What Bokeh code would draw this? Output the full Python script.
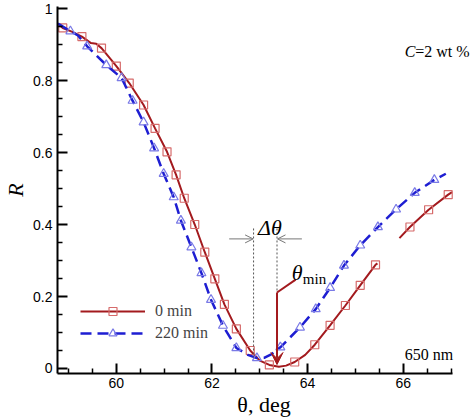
from bokeh.plotting import figure
from bokeh.models import (FixedTicker, CustomJSTickFormatter, Label, Arrow, VeeHead,
                          OpenHead, Legend, LegendItem, Range1d)
from bokeh.embed import file_html
from bokeh.resources import INLINE

NaN = float("nan")

# ---- data: 0 min (solid red) ----
r0_x = [58.78, 58.88, 59.08, 59.28, 59.47, 59.58, 59.69, 59.79, 59.92, 60.00, 60.27, 60.57,
        60.81, 61.06, 61.25, 61.42, 61.64, 61.85, 62.06, 62.26, 62.51, 62.80, 63.00, 63.20,
        63.40, 63.55, 63.73, 63.95, 64.15, 64.47, 64.79, 65.10, 65.42, 65.46,
        NaN, 65.92, 66.14, 66.53, 66.94, 67.02]
r0_y = [0.958, 0.946, 0.935, 0.922, 0.904, 0.902, 0.890, 0.874, 0.853, 0.840, 0.793, 0.732,
        0.667, 0.602, 0.538, 0.473, 0.400, 0.323, 0.249, 0.178, 0.110, 0.050, 0.022, 0.010,
        0.005, 0.008, 0.018, 0.038, 0.066, 0.120, 0.175, 0.231, 0.288, 0.292,
        NaN, 0.362, 0.393, 0.441, 0.483, 0.490]
r0_mx = [58.88, 59.28, 59.69, 60.00, 60.27, 60.57, 60.81, 61.06, 61.25, 61.42, 61.64, 61.85,
         62.06, 62.26, 62.51, 62.80, 63.20, 63.73, 64.15, 64.47, 64.79, 65.10, 65.42,
         66.14, 66.53, 66.94]
r0_my = [0.946, 0.922, 0.890, 0.840, 0.793, 0.732, 0.667, 0.602, 0.538, 0.473, 0.400, 0.323,
         0.249, 0.178, 0.110, 0.050, 0.010, 0.018, 0.066, 0.120, 0.175, 0.231, 0.288,
         0.393, 0.441, 0.483]

# ---- data: 220 min (dashed blue) ----
b220_x = [58.78, 59.04, 59.20, 59.39, 59.79, 60.11, 60.34, 60.57, 60.79, 60.99, 61.20, 61.35,
          61.57, 61.78, 61.98, 62.23, 62.51, 62.75, 62.94, 63.10, 63.25, 63.43, 63.84, 64.17,
          64.47, 64.76, 65.10, 65.47, 65.85, 66.24, 66.65, 66.89]
b220_y = [0.958, 0.937, 0.925, 0.895, 0.843, 0.807, 0.744, 0.684, 0.612, 0.541, 0.476, 0.411,
          0.337, 0.265, 0.191, 0.119, 0.057, 0.038, 0.029, 0.030, 0.040, 0.059, 0.114, 0.165,
          0.224, 0.286, 0.342, 0.393, 0.442, 0.488, 0.524, 0.541]
b220_mx = [59.04, 59.39, 59.79, 60.11, 60.34, 60.57, 60.79, 60.99, 61.20, 61.35, 61.57, 61.78,
           61.98, 62.23, 62.51, 62.94, 63.43, 63.84, 64.17, 64.47, 64.76, 65.10, 65.47, 65.85,
           66.24, 66.65]
b220_my = [0.937, 0.895, 0.843, 0.807, 0.744, 0.684, 0.612, 0.541, 0.476, 0.411, 0.337, 0.265,
           0.191, 0.119, 0.057, 0.029, 0.059, 0.114, 0.165, 0.224, 0.286, 0.342, 0.393, 0.442,
           0.488, 0.524]

x_ticks = [60, 62, 64, 66]
x_minor = [59, 59.5, 60.5, 61, 61.5, 62.5, 63, 63.5, 64.5, 65, 65.5, 66.5, 67]
y_ticks = [0, 0.2, 0.4, 0.6, 0.8, 1.0]
y_minor = [0.05, 0.1, 0.15, 0.25, 0.3, 0.35, 0.45, 0.5, 0.55, 0.65, 0.7, 0.75, 0.85, 0.9, 0.95]

RED = "#A31A1E"
RED_M = "#D66B6B"
BLUE = "#1E1ED2"
BLUE_M = "#7A7AE6"
SERIF = "Liberation Serif"
SANS = "Liberation Sans"

# frame spans to the right edge so the "C=2 wt %" note is not clipped;
# the x axis itself stops at 67.036 via axis bounds
p = figure(width=470, height=420, x_range=Range1d(58.77, 67.406), y_range=Range1d(-0.0139, 1.0056),
           output_backend="svg", toolbar_location=None,
           min_border_left=49, min_border_right=0, min_border_top=6, min_border_bottom=47)
p.xgrid.visible = False
p.ygrid.visible = False
p.outline_line_color = None

fmt = CustomJSTickFormatter(code="return (Math.round(tick*100)/100).toString();")
p.xaxis.ticker = FixedTicker(ticks=x_ticks, minor_ticks=x_minor)
p.yaxis.ticker = FixedTicker(ticks=y_ticks, minor_ticks=y_minor)
p.xaxis.bounds = (58.77, 67.036)
for ax in (p.xaxis, p.yaxis):
    ax.formatter = fmt
    ax.axis_line_width = 2
    ax.axis_line_color = "black"
    ax.major_tick_line_width = 2
    ax.minor_tick_line_width = 1.5
    ax.major_tick_in = 10
    ax.major_tick_out = 0
    ax.minor_tick_in = 5
    ax.minor_tick_out = 0
    ax.major_label_text_font = SANS
    ax.major_label_text_font_size = "14px"
    ax.major_label_text_color = "black"
    ax.major_label_standoff = 5
    ax.axis_label_text_font = SERIF
    ax.axis_label_text_font_size = "22px"
    ax.axis_label_text_color = "black"
p.xaxis.major_label_standoff = 4

p.yaxis.axis_label = "R"
p.yaxis.axis_label_text_font_style = "italic"
p.yaxis.axis_label_standoff = 2
p.xaxis.axis_label = "θ, deg"
p.xaxis.axis_label_text_font_style = "normal"
p.xaxis.axis_label_standoff = 1

r_line = p.line(r0_x, r0_y, line_color=RED, line_width=2)
r_mark = p.scatter(r0_mx, r0_my, marker="square", size=8, line_color=RED_M, fill_color=None,
                   line_width=1.2)
b_line = p.line(b220_x, b220_y, line_color=BLUE, line_width=2.5, line_dash="11 6")
b_mark = p.scatter(b220_mx, b220_my, marker="triangle", size=9, line_color=BLUE_M,
                   fill_color=None, line_width=1.2)

legend = Legend(items=[LegendItem(label="0 min", renderers=[r_line, r_mark]),
                       LegendItem(label="220 min", renderers=[b_line, b_mark])],
                location=(23, 30), glyph_width=65, glyph_height=20, label_height=20,
                spacing=2, padding=0, margin=0, label_standoff=10,
                label_text_font=SERIF, label_text_font_size="16px",
                border_line_color=None, background_fill_alpha=0)
p.add_layout(legend)

# ---- annotations ----
p.segment(x0=[62.87, 63.36], y0=[0.389, 0.389], x1=[62.87, 63.36], y1=[0.03, 0.211],
          line_color="#555555", line_width=1, line_dash="2 2")
p.add_layout(Arrow(x_start=62.36, y_start=0.36, x_end=62.86, y_end=0.36,
                   end=OpenHead(size=8, line_color="#777777", line_width=1),
                   line_color="#777777", line_width=1))
p.add_layout(Arrow(x_start=63.88, y_start=0.36, x_end=63.37, y_end=0.36,
                   end=OpenHead(size=8, line_color="#777777", line_width=1),
                   line_color="#777777", line_width=1))
p.add_layout(Arrow(x_start=63.75, y_start=0.247, x_end=63.36, y_end=0.211, end=None,
                   line_color=RED, line_width=2))
p.add_layout(Arrow(x_start=63.36, y_start=0.211, x_end=63.36, y_end=0.011,
                   end=VeeHead(size=12, fill_color=RED, line_color=RED),
                   line_color=RED, line_width=2))

def lab(x, y, text, size, style="normal", align="left", font=SERIF, baseline="alphabetic"):
    p.add_layout(Label(x=x, y=y, text=text, text_font=font, text_font_size=size,
                       text_font_style=style, text_align=align, text_baseline=baseline,
                       text_color="black"))

lab(63.21, 0.392, "Δθ", "22px", "italic", "center")
lab(63.67, 0.267, "θ", "22px", "italic")
lab(63.90, 0.250, "min", "15px")
lab(66.03, 0.881, "C", "16px", "italic")
lab(66.03 + 0.22, 0.881, "=2 wt %", "16px")
lab(66.03, 0.039, "650 nm", "16px")

open("out.html", "w").write(file_html(p, INLINE))
